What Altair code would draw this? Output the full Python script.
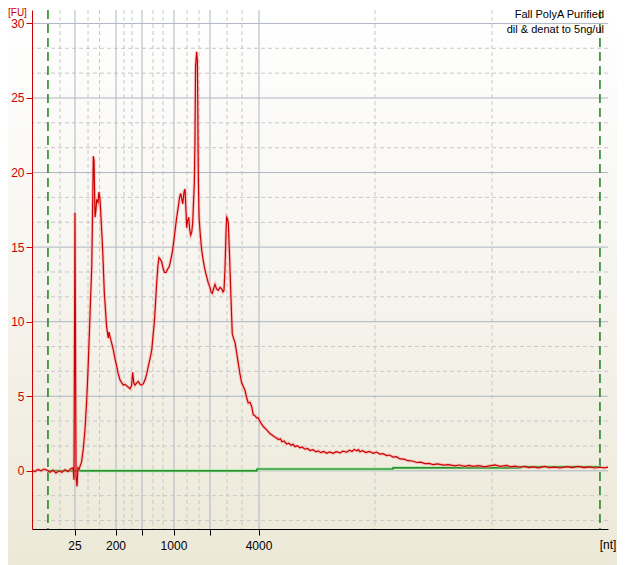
import altair as alt
import pandas as pd

W, H = 576, 519
X_DOMAIN = [18.0, 66.0]
Y_DOMAIN = [-3.9, 30.9]

# --- electropherogram trace (migration time in s, fluorescence FU) ---
time_s = [18.00, 18.25, 18.50, 18.75, 19.00, 19.25, 19.50, 19.75, 20.00, 20.25,
          20.50, 20.75, 21.00, 21.25, 21.42, 21.50, 21.58, 21.67, 21.75, 21.83,
          21.92, 22.00, 22.13, 22.28, 22.42, 22.56, 22.67, 22.78, 22.88, 22.98,
          23.04, 23.11, 23.17, 23.25, 23.33, 23.39, 23.50, 23.58, 23.67, 23.75,
          23.89, 24.03, 24.22, 24.36, 24.42, 24.50, 24.63, 24.78, 24.92, 25.06,
          25.19, 25.33, 25.48, 25.61, 25.75, 25.89, 26.03, 26.17, 26.29, 26.39,
          26.48, 26.58, 26.73, 26.86, 27.00, 27.14, 27.28, 27.42, 27.56, 27.69,
          27.83, 27.98, 28.08, 28.19, 28.29, 28.39, 28.50, 28.58, 28.69, 28.81,
          28.92, 29.04, 29.17, 29.29, 29.44, 29.58, 29.72, 29.83, 29.92, 30.06,
          30.19, 30.29, 30.39, 30.47, 30.56, 30.67, 30.75, 30.83, 30.89, 30.97,
          31.06, 31.14, 31.22, 31.31, 31.39, 31.46, 31.53, 31.58, 31.63, 31.72,
          31.78, 31.81, 31.86, 31.92, 32.03, 32.14, 32.25, 32.36, 32.46, 32.56,
          32.69, 32.83, 32.92, 33.03, 33.13, 33.25, 33.38, 33.52, 33.67, 33.81,
          33.92, 34.00, 34.08, 34.17, 34.22, 34.29, 34.36, 34.46, 34.56, 34.63,
          34.69, 34.79, 34.92, 35.06, 35.19, 35.33, 35.47, 35.58, 35.75, 35.89,
          36.02, 36.17, 36.31, 36.44, 36.58, 36.72, 36.86, 36.94, 37.08, 37.28,
          37.56, 37.83, 38.17, 38.35, 38.53, 38.70, 38.83, 39.00, 39.22, 39.40,
          39.58, 39.75, 39.92, 40.10, 40.33, 40.50, 40.75, 40.95, 41.17, 41.40,
          41.67, 41.85, 42.08, 42.30, 42.56, 42.80, 43.08, 43.35, 43.67, 43.90,
          44.22, 44.45, 44.67, 44.85, 45.06, 45.20, 45.33, 45.55, 45.83, 46.10,
          46.44, 46.70, 47.00, 47.25, 47.56, 47.80, 48.08, 48.35, 48.67, 49.00,
          49.33, 49.70, 50.06, 50.40, 50.75, 51.10, 51.42, 51.80, 52.28, 52.70,
          53.25, 53.60, 54.08, 54.40, 54.78, 55.20, 55.75, 56.10, 56.58, 57.00,
          57.56, 57.90, 58.25, 58.70, 59.08, 59.40, 59.78, 60.20, 60.75, 61.10,
          61.58, 62.00, 62.56, 63.00, 63.50, 64.00, 64.50, 64.90, 65.33, 65.70,
          66.00]
fu = [0.02, -0.05, 0.10, 0.00, 0.12, 0.05, -0.10, 0.05, -0.15, 0.00,
      -0.10, 0.08, -0.05, 0.15, 0.20, -0.60, 17.30, -0.40, -1.05, 0.20,
      0.10, 0.30, 0.60, 1.50, 2.80, 4.75, 6.80, 9.20, 11.50, 13.70,
      17.00, 21.10, 20.80, 17.00, 17.50, 18.20, 18.00, 18.70, 18.20, 17.00,
      14.80, 11.90, 9.65, 8.90, 9.30, 9.00, 8.60, 8.10, 7.50, 7.00,
      6.50, 6.10, 5.90, 5.75, 5.80, 5.70, 5.60, 5.50, 5.70, 6.60,
      5.90, 5.75, 5.90, 6.00, 5.80, 5.75, 5.85, 6.10, 6.50, 7.00,
      7.50, 8.10, 9.00, 9.90, 11.20, 12.60, 13.80, 14.30, 14.20, 14.00,
      13.60, 13.30, 13.30, 13.50, 13.70, 14.20, 14.80, 15.50, 16.10, 17.00,
      17.70, 18.30, 18.60, 18.30, 17.90, 18.70, 18.90, 17.50, 16.30, 16.80,
      17.00, 16.20, 15.80, 16.00, 16.60, 18.00, 19.30, 22.00, 27.10, 28.10,
      27.50, 25.00, 19.70, 17.00, 15.80, 14.80, 14.20, 13.70, 13.30, 13.00,
      12.60, 12.30, 12.00, 11.90, 12.20, 12.50, 12.20, 12.10, 12.30, 12.20,
      12.00, 12.10, 13.50, 16.00, 17.00, 16.90, 16.60, 14.50, 12.10, 10.50,
      9.20, 8.90, 8.60, 7.90, 7.20, 6.50, 5.90, 5.70, 5.40, 4.90,
      4.55, 4.60, 4.30, 3.75, 3.70, 3.55, 3.55, 3.40, 3.20, 2.97,
      2.75, 2.50, 2.30, 2.22, 2.10, 2.15, 1.95, 2.00, 1.80, 1.86,
      1.72, 1.78, 1.62, 1.68, 1.55, 1.60, 1.45, 1.50, 1.36, 1.42,
      1.28, 1.34, 1.22, 1.30, 1.18, 1.27, 1.17, 1.28, 1.20, 1.32,
      1.25, 1.38, 1.30, 1.44, 1.35, 1.42, 1.28, 1.35, 1.22, 1.30,
      1.18, 1.26, 1.12, 1.15, 1.02, 1.06, 0.92, 0.95, 0.80, 0.78,
      0.68, 0.66, 0.56, 0.58, 0.48, 0.50, 0.42, 0.47, 0.38, 0.42,
      0.33, 0.39, 0.30, 0.36, 0.30, 0.35, 0.27, 0.33, 0.40, 0.30,
      0.36, 0.27, 0.32, 0.24, 0.30, 0.22, 0.27, 0.20, 0.30, 0.21,
      0.25, 0.19, 0.28, 0.22, 0.30, 0.21, 0.26, 0.19, 0.24, 0.20,
      0.25]

# --- baseline (green) ---
base_t = [19.33, 36.75, 36.75, 48.08, 48.08, 58.67, 58.67, 65.33]
base_fu = [0.0, 0.0, 0.12, 0.12, 0.20, 0.20, 0.28, 0.28]

# --- ladder positions and labels ---
ladder_t = [21.58, 25.00, 27.17, 29.83, 32.83, 36.92]
ladder_label = ["25", "200", "", "1000", "", "4000"]
minor_t = [20.33, 22.67, 23.63, 25.67, 26.33, 28.08, 28.92, 30.92, 31.92,
           34.25, 35.50, 46.58, 56.33]
marker_t = [19.33, 65.33]
major_fu = [0, 5, 10, 15, 20, 25, 30]
minor_fu = [-3.333, -1.667, 1.667, 3.333, 6.667, 8.333, 11.667, 13.333,
            16.667, 18.333, 21.667, 23.333, 26.667, 28.333]

RED = "#CC0000"
FONT = "Liberation Sans"

xs = alt.Scale(domain=X_DOMAIN, nice=False, zero=False)
ys = alt.Scale(domain=Y_DOMAIN, nice=False, zero=False)
xaxis = alt.Axis(values=ladder_t, labels=False, ticks=True, tickSize=6,
                 tickColor="#000000", domainColor="#000000", grid=False,
                 title=None, zindex=1)
yaxis = alt.Axis(values=major_fu, tickSize=6, tickColor=RED, domainColor=RED,
                 labelColor=RED, labelFontSize=12, labelFont=FONT,
                 labelPadding=2, grid=False, title=None, zindex=1)


def X(f):
    return alt.X(f, type="quantitative", scale=xs, axis=xaxis)


def Y(f):
    return alt.Y(f, type="quantitative", scale=ys, axis=yaxis)


one = pd.DataFrame({"a": [0]})
trace = pd.DataFrame({"t": time_s, "fu": fu})
base = pd.DataFrame({"t": base_t, "fu": base_fu})

bg = alt.Chart(one).mark_rect(
    color=alt.Gradient(gradient="linear",
                       stops=[alt.GradientStop(color="#FFFFFF", offset=0),
                              alt.GradientStop(color="#F6F4EE", offset=0.5),
                              alt.GradientStop(color="#ECE9D8", offset=1)],
                       x1=0, x2=0, y1=0, y2=1)
).encode(x=alt.value(-24), x2=alt.value(W + 9), y=alt.value(-2), y2=alt.value(H + 36))

minor_h = alt.Chart(pd.DataFrame({"fu": minor_fu})).mark_rule(
    color="#C8C8C8", strokeDash=[4, 3], strokeWidth=1).encode(y=Y("fu"))
major_h = alt.Chart(pd.DataFrame({"fu": major_fu})).mark_rule(
    color="#AEB5C2", strokeWidth=1).encode(y=Y("fu"))
minor_v = alt.Chart(pd.DataFrame({"t": minor_t})).mark_rule(
    color="#C8C8C8", strokeDash=[4, 3], strokeWidth=1).encode(x=X("t"))
major_v = alt.Chart(pd.DataFrame({"t": ladder_t})).mark_rule(
    color="#AEB5C2", strokeWidth=1).encode(x=X("t"))

markers = alt.Chart(pd.DataFrame({"t": marker_t})).mark_rule(
    color="#0A7A0A", strokeDash=[9, 5], strokeWidth=1.4).encode(x=X("t"))

base_glow = alt.Chart(base).mark_line(color="#A8EFA8", strokeWidth=3).encode(x=X("t"), y=Y("fu"))
base_line = alt.Chart(base).mark_line(color="#0B6E0B", strokeWidth=1.1).encode(x=X("t"), y=Y("fu"))

glow = alt.Chart(trace).mark_line(color="#F4A3A3", strokeWidth=3.2, opacity=0.55).encode(x=X("t"), y=Y("fu"))
line = alt.Chart(trace).mark_line(color=RED, strokeWidth=1.2).encode(x=X("t"), y=Y("fu"))

xlabels = alt.Chart(pd.DataFrame({"t": ladder_t, "label": ladder_label})).mark_text(
    fontSize=12, font=FONT, color="#000000", align="center", baseline="middle"
).encode(x=X("t"), y=alt.value(H + 17), text="label:N")

t1 = alt.Chart(one).mark_text(text="Fall PolyA Purified", align="right", baseline="middle",
                              fontSize=11, font=FONT, color="#000000"
                              ).encode(x=alt.value(W - 4), y=alt.value(5))
t2 = alt.Chart(one).mark_text(text="dil & denat to 5ng/ul", align="right", baseline="middle",
                              fontSize=11, font=FONT, color="#000000"
                              ).encode(x=alt.value(W - 4), y=alt.value(20))
fu_lab = alt.Chart(one).mark_text(text="[FU]", align="left", baseline="top",
                                  fontSize=10, font=FONT, color=RED
                                  ).encode(x=alt.value(-24), y=alt.value(-2))
nt_lab = alt.Chart(one).mark_text(text="[nt]", align="center", baseline="middle",
                                  fontSize=12, font=FONT, color="#000000"
                                  ).encode(x=alt.value(W), y=alt.value(H + 16))

chart = alt.layer(
    bg, minor_h, minor_v, major_h, major_v, markers,
    base_glow, base_line, glow, line, xlabels, t1, t2, fu_lab, nt_lab
).properties(
    width=W, height=H,
    autosize=alt.AutoSizeParams(type="none"),
    padding={"left": 24, "top": 2, "right": 9, "bottom": 36},
    background="#FFFFFF",
).configure_view(stroke=None)

chart.save("out.html", embed_options={"renderer": "svg", "actions": False})
